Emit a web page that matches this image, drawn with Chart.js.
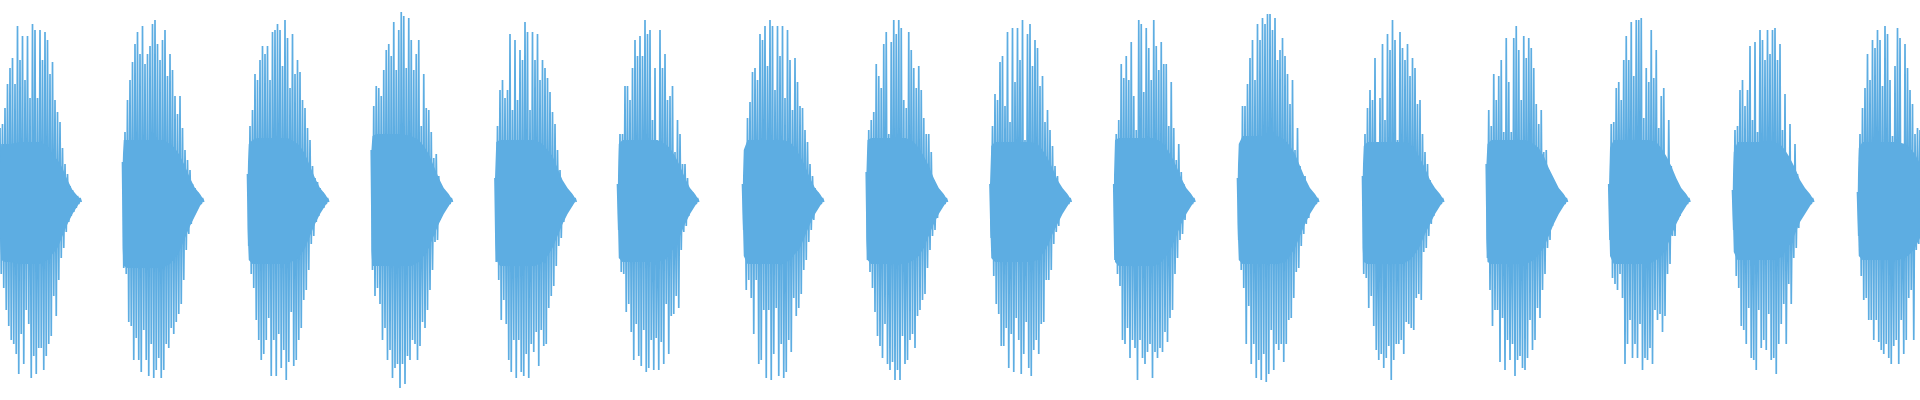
<!DOCTYPE html>
<html><head><meta charset="utf-8">
<script src="https://cdn.jsdelivr.net/npm/chart.js@4.4.1/dist/chart.umd.min.js"></script>
<style>html,body{margin:0;padding:0;background:#fff}#wrap{width:1920px;height:400px;position:relative}</style>
</head><body><div id="wrap"><canvas id="c"></canvas></div>
<script>
// sample index at which each burst begins
const burstStart = [0, 98, 198, 297, 396, 494, 594, 693, 792, 891, 990, 1090, 1189, 1287, 1386, 1486];
const totalSamples = 1536;

// positive peaks (even samples) and negative peaks (odd samples) of each burst
const burst01Up = [36,38,46,58,66,71,58,87,70,82,60,82,51,88,85,51,85,70,84,80,63,69,50,44,39,26,18,13,7,5,3,2,1];
const burst01Down = [37,44,55,63,70,72,77,87,67,82,55,62,89,78,87,74,74,85,78,72,68,48,58,40,29,24,16,11,8,6,4,2,1];
const burst02Up = [19,34,50,60,69,78,84,73,87,68,73,77,88,90,78,70,80,85,62,73,65,52,43,52,36,25,20,15,8,6,4,2,1];
const burst02Down = [34,37,61,63,80,69,80,86,65,80,88,72,89,85,79,89,85,72,74,64,67,61,57,52,40,25,17,12,7,5,3,2,1];
const burst03Up = [13,37,45,63,60,70,77,73,77,60,84,85,88,85,67,90,81,56,83,63,70,64,50,46,36,30,17,11,9,6,4,2,1];
const burst03Down = [23,37,44,60,70,80,77,70,59,88,70,88,67,84,75,90,81,56,83,80,70,64,50,45,35,22,18,11,8,5,4,2,1];
const burst04Up = [25,47,57,56,52,65,75,78,72,89,65,85,94,92,66,91,80,65,73,80,37,63,46,45,34,21,23,12,6,4,3,1,1];
const burst04Down = [35,48,44,52,70,64,80,75,89,84,82,94,82,92,78,80,70,72,80,73,61,64,55,45,35,21,20,10,6,4,3,2,1];
const burst05Up = [11,37,55,60,51,55,83,45,80,50,75,70,89,84,45,84,70,83,60,70,66,61,54,44,38,25,15,8,7,5,3,2,1];
const burst05Down = [31,40,60,50,62,80,86,70,89,70,86,88,77,89,72,76,66,83,65,73,72,54,48,43,33,23,19,11,7,4,3,1,1];
const burst06Up = [8,33,33,57,57,50,66,80,72,82,72,90,83,85,40,66,28,85,66,73,50,52,57,24,40,33,18,18,11,5,4,2,1];
const burst06Down = [15,36,37,56,52,66,80,62,78,83,65,86,84,70,85,69,85,71,82,52,77,58,57,48,54,25,16,13,8,5,3,2,1];
const burst07Up = [8,20,41,49,64,66,60,83,80,87,67,90,87,55,87,72,87,51,85,70,45,71,59,47,46,35,29,18,12,6,4,2,1];
const burst07Down = [15,45,40,49,67,40,82,80,55,89,55,90,77,54,88,72,89,86,70,76,49,58,54,47,35,30,21,15,10,5,3,2,1];
const burst08Up = [14,35,40,44,68,62,56,78,84,33,79,90,83,90,86,50,46,84,75,66,56,67,55,41,33,33,24,10,7,4,3,2,1];
const burst08Down = [30,36,44,56,68,73,79,62,82,85,81,90,85,90,68,82,80,70,67,74,58,55,50,47,34,25,18,15,9,5,3,2,1];
const burst09Up = [8,37,53,50,69,72,47,84,39,86,59,86,70,90,30,83,88,67,80,76,57,62,39,45,35,27,17,12,7,4,3,2,1];
const burst09Down = [19,38,52,57,73,73,64,84,67,86,59,70,87,77,61,84,88,75,70,77,62,61,40,40,35,22,16,13,6,4,3,2,1];
const burst10Up = [8,33,40,68,61,72,60,79,52,35,90,88,54,86,76,60,90,77,65,79,68,68,37,59,36,20,28,14,8,4,3,2,1];
const burst10Down = [30,37,43,70,72,64,79,70,74,90,70,79,82,76,72,89,76,79,74,76,66,71,59,55,37,29,20,17,10,5,3,2,1];
const burst11Up = [11,27,47,47,58,71,80,60,88,80,91,88,93,93,85,91,70,75,81,72,63,48,60,25,36,17,11,12,7,4,3,2,1];
const burst11Down = [20,35,44,72,53,82,72,89,80,90,77,91,87,65,85,72,75,72,81,72,60,59,49,36,34,23,17,12,9,5,3,2,1];
const burst12Up = [12,33,46,55,50,71,28,51,78,40,83,75,90,80,30,84,76,70,78,62,71,66,48,50,33,24,18,10,7,4,3,2,1];
const burst12Down = [37,39,54,48,63,75,80,77,84,79,73,90,80,72,72,70,77,61,62,64,65,49,47,50,26,24,18,12,8,5,3,2,1];
const burst13Up = [18,45,37,63,50,62,70,34,81,59,34,81,87,75,50,82,71,81,76,66,48,38,45,24,25,15,12,7,6,4,3,2,1];
const burst13Down = [29,45,63,55,55,81,59,85,70,80,72,88,80,78,84,85,79,60,75,70,54,59,45,37,24,20,13,8,5,4,3,2,1];
const burst14Up = [8,38,39,56,59,50,70,82,70,89,62,90,90,91,41,66,59,85,61,75,36,52,56,21,40,17,9,8,5,4,2,1,1];
const burst14Down = [20,39,42,45,37,49,82,72,60,79,72,79,62,85,79,80,74,82,55,60,57,66,58,37,32,18,18,10,8,5,3,2,1];
const burst15Up = [5,35,37,55,60,47,55,77,40,79,34,85,80,70,85,73,85,86,70,78,35,53,20,38,16,28,13,7,4,4,3,2,1];
const burst15Down = [15,38,44,63,65,72,54,79,80,85,55,74,70,75,57,80,79,87,72,62,52,72,42,52,29,24,14,7,6,4,3,2,1];
const burst16Up = [4,33,46,56,73,60,80,76,85,80,57,87,83,60,32,67,86,81,24,78,66,55,48,33,36,35];
const burst16Down = [18,38,50,49,60,60,70,60,71,75,77,72,79,82,73,70,82,60,77,70,49,45,70,25,22,35];

// dense core of each burst: sample offsets and its upper / lower extent
const coreAt = [0, 1, 4, 8, 16, 24, 32, 38, 42, 46, 50, 54, 58, 62, 65];
const core01Top = [18,28,28,28,29,29,29,27,23,20,16,10,5,2,0];
const core01Bottom = [19,30,31,31,32,32,32,30,27,24,18,12,7,3,0];
const core02Top = [19,30,30,30,30,30,30,28,26,22,17,11,6,3,0];
const core02Bottom = [24,33,34,34,34,34,34,32,29,25,19,13,8,3,0];
const core03Top = [13,28,30,31,31,31,31,29,27,23,17,11,6,3,0];
const core03Bottom = [14,30,32,32,32,32,32,30,28,24,18,12,7,3,0];
const core04Top = [25,32,33,33,33,33,32,30,27,23,17,11,6,3,0];
const core04Bottom = [25,33,33,33,33,33,33,31,28,24,18,12,7,3,0];
const core05Top = [11,29,30,30,30,30,30,28,25,22,16,10,6,3,0];
const core05Bottom = [12,30,33,33,33,33,33,31,28,24,18,12,7,3,0];
const core06Top = [1,28,30,30,30,30,30,28,26,22,17,11,6,3,0];
const core06Bottom = [1,29,31,31,31,31,31,30,27,23,18,12,7,3,0];
const core07Top = [3,25,30,30,30,30,30,29,26,22,17,11,6,3,0];
const core07Bottom = [4,28,32,32,32,32,32,30,27,24,18,12,7,3,0];
const core08Top = [14,30,31,31,31,31,31,29,26,22,17,11,6,3,0];
const core08Bottom = [19,30,32,32,32,32,32,30,28,24,18,12,7,3,0];
const core09Top = [8,27,29,29,29,29,29,28,25,21,16,10,6,3,0];
const core09Bottom = [8,29,31,31,31,31,31,30,27,23,17,12,7,3,0];
const core10Top = [8,30,31,31,31,31,31,29,26,22,17,11,6,3,0];
const core10Bottom = [8,31,33,33,33,33,33,31,28,24,18,12,7,3,0];
const core11Top = [11,28,32,32,32,32,32,30,27,23,17,11,6,3,0];
const core11Bottom = [12,30,32,32,32,32,32,31,28,24,18,12,7,3,0];
const core12Top = [12,27,29,29,29,29,29,28,25,21,16,10,6,3,0];
const core12Bottom = [24,31,32,32,32,32,32,30,27,23,17,12,7,3,0];
const core13Top = [18,28,30,30,30,30,30,28,26,22,16,11,6,3,0];
const core13Bottom = [19,31,32,32,32,32,32,30,27,24,18,12,7,3,0];
const core14Top = [1,26,30,30,30,30,30,29,26,22,17,11,6,3,0];
const core14Bottom = [1,28,32,32,32,32,32,30,28,24,18,12,7,3,0];
const core15Top = [5,24,29,29,29,29,29,28,25,21,16,10,6,3,0];
const core15Bottom = [2,26,30,30,30,30,30,29,26,22,17,11,7,3,0];
const core16Top = [4,26,29,29,29,29,29,28,26,23,18,12];
const core16Bottom = [4,28,30,30,30,30,30,29,27,24,19,13];

const ups = [burst01Up,burst02Up,burst03Up,burst04Up,burst05Up,burst06Up,burst07Up,burst08Up,burst09Up,burst10Up,burst11Up,burst12Up,burst13Up,burst14Up,burst15Up,burst16Up];
const downs = [burst01Down,burst02Down,burst03Down,burst04Down,burst05Down,burst06Down,burst07Down,burst08Down,burst09Down,burst10Down,burst11Down,burst12Down,burst13Down,burst14Down,burst15Down,burst16Down];
const coreTops = [core01Top,core02Top,core03Top,core04Top,core05Top,core06Top,core07Top,core08Top,core09Top,core10Top,core11Top,core12Top,core13Top,core14Top,core15Top,core16Top];
const coreBottoms = [core01Bottom,core02Bottom,core03Bottom,core04Bottom,core05Bottom,core06Bottom,core07Bottom,core08Bottom,core09Bottom,core10Bottom,core11Bottom,core12Bottom,core13Bottom,core14Bottom,core15Bottom,core16Bottom];

const COLOR = '#5DADE2';
const datasets = [];
burstStart.forEach((s, b) => {
  datasets.push({
    data: coreTops[b].map((v, i) => ({x: s + coreAt[i], y: v})),
    borderWidth: 0, borderColor: 'rgba(0,0,0,0)', pointRadius: 0, tension: 0,
    backgroundColor: COLOR, fill: '+1'
  });
  datasets.push({
    data: coreBottoms[b].map((v, i) => ({x: s + coreAt[i], y: -v})),
    borderWidth: 0, borderColor: 'rgba(0,0,0,0)', pointRadius: 0, tension: 0, fill: false
  });
  const up = ups[b], dn = downs[b], pts = [];
  const n = Math.max(up.length, dn.length);
  for (let k = 0; k < n; k++) {
    if (k < up.length) pts.push({x: s + 2 * k, y: up[k]});
    if (k < dn.length) pts.push({x: s + 2 * k + 1, y: -dn[k]});
  }
  datasets.push({data: pts, borderColor: COLOR, borderWidth: 1.7, pointRadius: 0, tension: 0, fill: false, borderJoinStyle: 'bevel'});
});

new Chart(document.getElementById('c'), {
  type: 'line',
  data: {datasets},
  options: {
    responsive: true, maintainAspectRatio: false, animation: false,
    layout: {padding: 0},
    plugins: {legend: {display: false}, tooltip: {enabled: false}},
    scales: {
      x: {type: 'linear', display: false, min: 0, max: totalSamples},
      y: {display: false, min: -100, max: 100}
    }
  }
});
</script></body></html>
